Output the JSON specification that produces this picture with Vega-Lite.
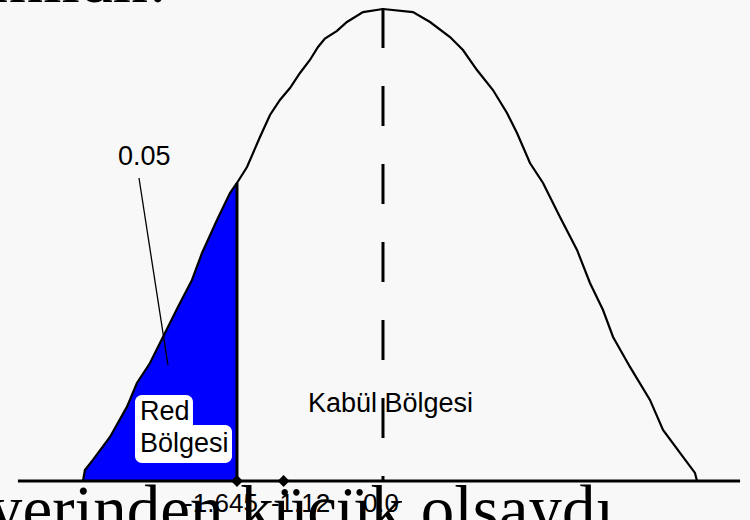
{
  "$schema": "https://vega.github.io/schema/vega-lite/v6.json",
  "width": 750,
  "height": 520,
  "padding": 0,
  "autosize": {"type": "fit", "contains": "padding"},
  "background": "#f8f8f8",
  "config": {"view": {"stroke": null}},
  "datasets": {
    "egri": [
      {"z": -3.380, "yogunluk": 0},
      {"z": -3.358, "yogunluk": 0.0093},
      {"z": -3.268, "yogunluk": 0.0178},
      {"z": -3.076, "yogunluk": 0.0372},
      {"z": -2.885, "yogunluk": 0.0626},
      {"z": -2.772, "yogunluk": 0.0828},
      {"z": -2.625, "yogunluk": 0.0997},
      {"z": -2.479, "yogunluk": 0.1217},
      {"z": -2.310, "yogunluk": 0.1471},
      {"z": -2.152, "yogunluk": 0.1699},
      {"z": -2.039, "yogunluk": 0.1927},
      {"z": -1.870, "yogunluk": 0.2206},
      {"z": -1.724, "yogunluk": 0.2434},
      {"z": -1.645, "yogunluk": 0.2519},
      {"z": -1.532, "yogunluk": 0.2654},
      {"z": -1.386, "yogunluk": 0.2908},
      {"z": -1.273, "yogunluk": 0.3094},
      {"z": -1.161, "yogunluk": 0.3221},
      {"z": -1.048, "yogunluk": 0.3322},
      {"z": -0.935, "yogunluk": 0.3449},
      {"z": -0.823, "yogunluk": 0.3559},
      {"z": -0.732, "yogunluk": 0.3669},
      {"z": -0.654, "yogunluk": 0.3740},
      {"z": -0.518, "yogunluk": 0.3805},
      {"z": -0.406, "yogunluk": 0.3880},
      {"z": -0.225, "yogunluk": 0.3964},
      {"z": 0.000, "yogunluk": 0.3990},
      {"z": 0.338, "yogunluk": 0.3964},
      {"z": 0.530, "yogunluk": 0.3880},
      {"z": 0.755, "yogunluk": 0.3753},
      {"z": 0.901, "yogunluk": 0.3643},
      {"z": 1.059, "yogunluk": 0.3474},
      {"z": 1.239, "yogunluk": 0.3305},
      {"z": 1.397, "yogunluk": 0.3111},
      {"z": 1.510, "yogunluk": 0.2942},
      {"z": 1.656, "yogunluk": 0.2688},
      {"z": 1.803, "yogunluk": 0.2519},
      {"z": 1.994, "yogunluk": 0.2232},
      {"z": 2.186, "yogunluk": 0.1953},
      {"z": 2.332, "yogunluk": 0.1674},
      {"z": 2.479, "yogunluk": 0.1445},
      {"z": 2.592, "yogunluk": 0.1217},
      {"z": 2.783, "yogunluk": 0.0964},
      {"z": 3.008, "yogunluk": 0.0685},
      {"z": 3.155, "yogunluk": 0.0431},
      {"z": 3.380, "yogunluk": 0.0203},
      {"z": 3.515, "yogunluk": 0.0068},
      {"z": 3.538, "yogunluk": 0}
    ],
    "kritik": [{"z": -1.645, "ust": 0.2519, "alt": 0}],
    "ortalama": [{"z": 0, "ust": 0.3998, "alt": 0}],
    "eksen": [{"bas": -4.113, "son": 4.023, "y": 0}],
    "isaretler": [
      {"z": -1.645, "etiket": "-1.645"},
      {"z": -1.12, "etiket": "-1.12"},
      {"z": 0, "etiket": "0.0"}
    ],
    "cizgi": [{"x1": -2.749, "y1": 0.2561, "x2": -2.423, "y2": 0.0981}],
    "kutu": [
      {"x1": -2.794, "x2": -2.141, "y1": 0.0727, "y2": 0.0347},
      {"x1": -2.794, "x2": -1.701, "y1": 0.0473, "y2": 0.0152}
    ],
    "notlar": [
      {"x": -2.986, "y": 0.2671, "metin": "0.05"},
      {"x": -2.738, "y": 0.0516, "metin": "Red"},
      {"x": -2.738, "y": 0.0245, "metin": "Bölgesi"},
      {"x": -0.845, "y": 0.0583, "metin": "Kabül Bölgesi"}
    ],
    "alt_metin": [{"x": -4.439, "y": -0.0431, "metin": "yerinden küçük olsaydı"}],
    "ust_metin": [{"x": -2.445, "y": 0.4045, "metin": "anlamlıdır."}]
  },
  "layer": [
    {
      "data": {"name": "egri"},
      "transform": [{"filter": "datum.z <= -1.645"}],
      "mark": {"type": "area", "color": "#0000ff", "clip": true},
      "encoding": {
        "x": {"field": "z", "type": "quantitative", "axis": null, "scale": {"domain": [-4.315, 4.135], "nice": false, "zero": false}},
        "y": {"field": "yogunluk", "type": "quantitative", "axis": null, "scale": {"domain": [-0.033, 0.4066], "nice": false, "zero": false}},
        "y2": {"datum": 0}
      }
    },
    {
      "data": {"name": "egri"},
      "mark": {"type": "line", "color": "#000000", "strokeWidth": 2.2, "clip": true},
      "encoding": {
        "x": {"field": "z", "type": "quantitative", "axis": null, "scale": {"domain": [-4.315, 4.135], "nice": false, "zero": false}},
        "y": {"field": "yogunluk", "type": "quantitative", "axis": null, "scale": {"domain": [-0.033, 0.4066], "nice": false, "zero": false}}
      }
    },
    {
      "data": {"name": "kritik"},
      "mark": {"type": "rule", "color": "#000000", "strokeWidth": 3},
      "encoding": {
        "x": {"field": "z", "type": "quantitative", "axis": null, "scale": {"domain": [-4.315, 4.135], "nice": false, "zero": false}},
        "y": {"field": "ust", "type": "quantitative", "axis": null, "scale": {"domain": [-0.033, 0.4066], "nice": false, "zero": false}},
        "y2": {"field": "alt"}
      }
    },
    {
      "data": {"name": "ortalama"},
      "mark": {"type": "rule", "color": "#000000", "strokeWidth": 3, "strokeDash": [40, 38]},
      "encoding": {
        "x": {"field": "z", "type": "quantitative", "axis": null, "scale": {"domain": [-4.315, 4.135], "nice": false, "zero": false}},
        "y": {"field": "ust", "type": "quantitative", "axis": null, "scale": {"domain": [-0.033, 0.4066], "nice": false, "zero": false}},
        "y2": {"field": "alt"}
      }
    },
    {
      "data": {"name": "eksen"},
      "mark": {"type": "rule", "color": "#000000", "strokeWidth": 3},
      "encoding": {
        "x": {"field": "bas", "type": "quantitative", "axis": null, "scale": {"domain": [-4.315, 4.135], "nice": false, "zero": false}},
        "x2": {"field": "son"},
        "y": {"field": "y", "type": "quantitative", "axis": null, "scale": {"domain": [-0.033, 0.4066], "nice": false, "zero": false}}
      }
    },
    {
      "data": {"name": "cizgi"},
      "mark": {"type": "rule", "color": "#000000", "strokeWidth": 1.3},
      "encoding": {
        "x": {"field": "x1", "type": "quantitative", "axis": null, "scale": {"domain": [-4.315, 4.135], "nice": false, "zero": false}},
        "x2": {"field": "x2"},
        "y": {"field": "y1", "type": "quantitative", "axis": null, "scale": {"domain": [-0.033, 0.4066], "nice": false, "zero": false}},
        "y2": {"field": "y2"}
      }
    },
    {
      "data": {"name": "kutu"},
      "mark": {"type": "rect", "color": "#ffffff", "cornerRadius": 7},
      "encoding": {
        "x": {"field": "x1", "type": "quantitative", "axis": null, "scale": {"domain": [-4.315, 4.135], "nice": false, "zero": false}},
        "x2": {"field": "x2"},
        "y": {"field": "y1", "type": "quantitative", "axis": null, "scale": {"domain": [-0.033, 0.4066], "nice": false, "zero": false}},
        "y2": {"field": "y2"}
      }
    },
    {
      "data": {"name": "notlar"},
      "mark": {"type": "text", "align": "left", "baseline": "alphabetic", "font": "Liberation Sans", "fontSize": 27, "color": "#000000"},
      "encoding": {
        "x": {"field": "x", "type": "quantitative", "axis": null, "scale": {"domain": [-4.315, 4.135], "nice": false, "zero": false}},
        "y": {"field": "y", "type": "quantitative", "axis": null, "scale": {"domain": [-0.033, 0.4066], "nice": false, "zero": false}},
        "text": {"field": "metin"}
      }
    },
    {
      "data": {"name": "isaretler"},
      "transform": [{"filter": "datum.z < 0"}],
      "mark": {"type": "point", "shape": "diamond", "filled": true, "color": "#000000", "size": 140, "opacity": 1},
      "encoding": {
        "x": {"field": "z", "type": "quantitative", "axis": null, "scale": {"domain": [-4.315, 4.135], "nice": false, "zero": false}},
        "y": {"datum": 0, "type": "quantitative", "axis": null, "scale": {"domain": [-0.033, 0.4066], "nice": false, "zero": false}}
      }
    },
    {
      "data": {"name": "isaretler"},
      "transform": [{"filter": "datum.etiket == '-1.645'"}],
      "mark": {"type": "text", "align": "center", "baseline": "alphabetic", "dx": -16, "font": "Liberation Sans", "fontSize": 26, "color": "#000000"},
      "encoding": {
        "x": {"field": "z", "type": "quantitative", "axis": null, "scale": {"domain": [-4.315, 4.135], "nice": false, "zero": false}},
        "y": {"datum": -0.0262, "type": "quantitative", "axis": null, "scale": {"domain": [-0.033, 0.4066], "nice": false, "zero": false}},
        "text": {"field": "etiket"}
      }
    },
    {
      "data": {"name": "isaretler"},
      "transform": [{"filter": "datum.etiket == '-1.12'"}],
      "mark": {"type": "text", "align": "center", "baseline": "alphabetic", "dx": 17, "font": "Liberation Sans", "fontSize": 26, "color": "#000000"},
      "encoding": {
        "x": {"field": "z", "type": "quantitative", "axis": null, "scale": {"domain": [-4.315, 4.135], "nice": false, "zero": false}},
        "y": {"datum": -0.0262, "type": "quantitative", "axis": null, "scale": {"domain": [-0.033, 0.4066], "nice": false, "zero": false}},
        "text": {"field": "etiket"}
      }
    },
    {
      "data": {"name": "isaretler"},
      "transform": [{"filter": "datum.etiket == '0.0'"}],
      "mark": {"type": "text", "align": "center", "baseline": "alphabetic", "dx": -2, "font": "Liberation Sans", "fontSize": 26, "color": "#000000"},
      "encoding": {
        "x": {"field": "z", "type": "quantitative", "axis": null, "scale": {"domain": [-4.315, 4.135], "nice": false, "zero": false}},
        "y": {"datum": -0.0262, "type": "quantitative", "axis": null, "scale": {"domain": [-0.033, 0.4066], "nice": false, "zero": false}},
        "text": {"field": "etiket"}
      }
    },
    {
      "data": {"name": "alt_metin"},
      "mark": {"type": "text", "align": "left", "baseline": "alphabetic", "font": "Liberation Serif", "fontSize": 67, "color": "#000000", "clip": true},
      "encoding": {
        "x": {"field": "x", "type": "quantitative", "axis": null, "scale": {"domain": [-4.315, 4.135], "nice": false, "zero": false}},
        "y": {"field": "y", "type": "quantitative", "axis": null, "scale": {"domain": [-0.033, 0.4066], "nice": false, "zero": false}},
        "text": {"field": "metin"}
      }
    },
    {
      "data": {"name": "ust_metin"},
      "mark": {"type": "text", "align": "right", "baseline": "alphabetic", "font": "Liberation Serif", "fontSize": 66, "color": "#000000", "clip": true},
      "encoding": {
        "x": {"field": "x", "type": "quantitative", "axis": null, "scale": {"domain": [-4.315, 4.135], "nice": false, "zero": false}},
        "y": {"field": "y", "type": "quantitative", "axis": null, "scale": {"domain": [-0.033, 0.4066], "nice": false, "zero": false}},
        "text": {"field": "metin"}
      }
    }
  ]
}
